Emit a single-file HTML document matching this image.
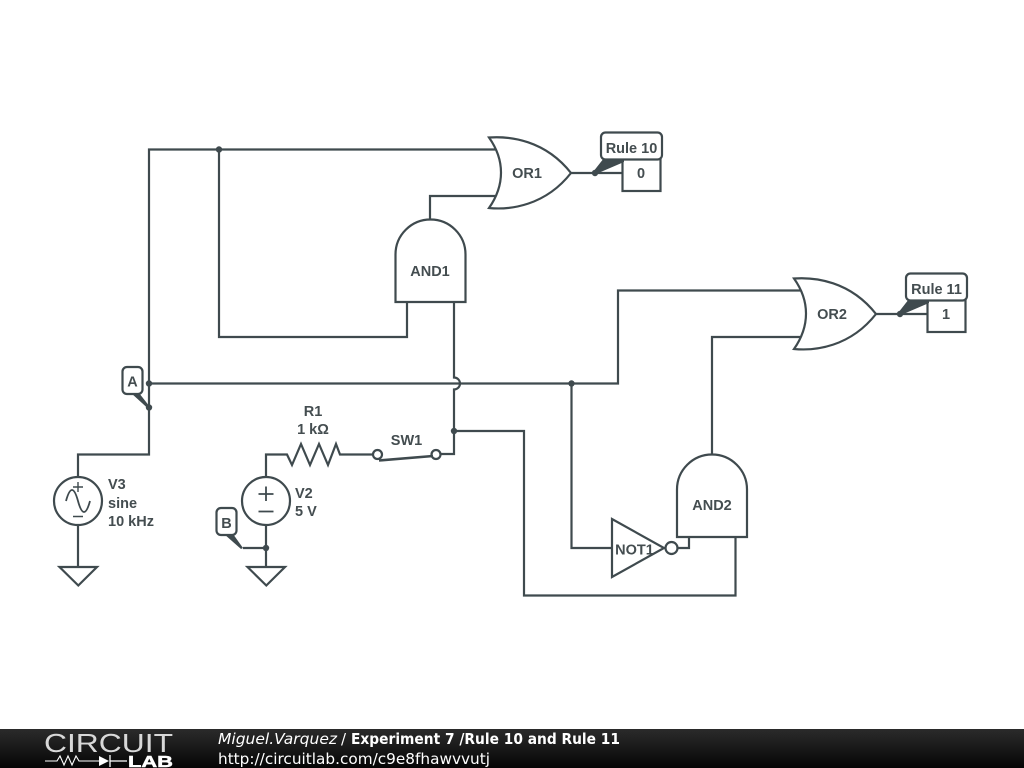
<!DOCTYPE html>
<html lang="en">
<head>
<meta charset="utf-8">
<title>Rule 10 and Rule 11</title>
<style>
html,body{margin:0;padding:0;background:#fff;width:1024px;height:768px;overflow:hidden}
svg{display:block}
.w{fill:none;stroke:#3f4a4e;stroke-width:2.2;stroke-linejoin:miter}
.s{fill:#fff;stroke:#3f4a4e;stroke-width:2.2;stroke-linejoin:miter}
.d{fill:#3f4a4e;stroke:none}
.t{font-family:"Liberation Sans",sans-serif;font-weight:bold;font-size:14.5px;fill:#444d50;text-anchor:middle}
.l{font-family:"Liberation Sans",sans-serif;font-weight:bold;font-size:14.5px;fill:#444d50}
.f{font-family:"DejaVu Sans",sans-serif;font-size:15px;fill:#fff}
</style>
</head>
<body>
<svg width="1024" height="768" viewBox="0 0 1024 768" xmlns="http://www.w3.org/2000/svg">
<defs>
<linearGradient id="bar" x1="0" y1="0" x2="0" y2="1">
<stop offset="0" stop-color="#2b2b2b"/><stop offset="1" stop-color="#050505"/>
</linearGradient>
</defs>
<rect width="1024" height="768" fill="#fff"/>

<!-- wires -->
<path class="w" d="M497 149.5H149V454.500H78V478"/>
<path class="w" d="M219 149.500V337H407V302"/>
<path class="w" d="M430 219V196H497"/>
<path class="w" d="M149 383.500H618V290.500H802"/>
<path class="w" d="M454 302V377.500A6 6 0 0 1 454 389.500V454H441"/>
<path class="w" d="M454 431H524V595.500H735.500V537"/>
<path class="w" d="M571.500 383.500V548H612"/>
<path class="w" d="M712 454V337H802"/>
<path class="w" d="M678 548H689V537"/>
<path class="w" d="M571 173H622"/>
<path class="w" d="M876 314H927"/>
<path class="w" d="M78 525V567"/>
<path class="w" d="M266 525V567"/>
<path class="w" d="M266 477V454.500H287L292 465L301 444L310 465L319 444L328 465L336 444L340 454.500H373"/>
<path class="w" d="M266 548H243"/>

<!-- switch -->
<circle class="s" cx="377.500" cy="454.500" r="4.500"/>
<circle class="s" cx="436" cy="454.500" r="4.500"/>
<path class="w" style="stroke-width:2.6" d="M379 460.500L433 456"/>
<text class="t" x="406.500" y="445">SW1</text>
<text class="t" x="313" y="416">R1</text>
<text class="t" x="313" y="434">1 kΩ</text>

<!-- OR gates -->
<path class="s" d="M489 137.500C510 136 545 140 571 173C545 206 510 210 489 208C505 185 505 160 489 137.500Z"/>
<text class="t" x="527" y="178">OR1</text>
<path class="s" d="M794 278.500C815 277 850 281 876 314C850 347 815 351 794 349C810 326 810 301 794 278.500Z"/>
<text class="t" x="832" y="319">OR2</text>

<!-- AND gates -->
<path class="s" d="M395.500 302V254.500A35 35 0 0 1 465.500 254.500V302Z"/>
<text class="t" x="430" y="276">AND1</text>
<path class="s" d="M677 537V489.500A35 35 0 0 1 747 489.500V537Z"/>
<text class="t" x="712" y="510">AND2</text>

<!-- NOT -->
<path class="s" d="M612 519V577L664 548Z"/>
<circle class="s" cx="671.500" cy="548" r="6"/>
<text class="t" x="634.500" y="554.500">NOT1</text>

<!-- sources -->
<circle class="s" cx="78" cy="501" r="24"/>
<path class="w" style="stroke-width:1.4" d="M78 482V492M73 487H83M73 516.500H83"/>
<path class="w" style="stroke-width:1.800" d="M66 501Q72 479 78 501Q84 523 90 501"/>
<circle class="s" cx="266" cy="501" r="24"/>
<path class="w" style="stroke-width:1.800" d="M266 486.500V501M258.500 494H273.500M258.500 511.500H273.500"/>
<text class="l" x="108" y="489">V3</text>
<text class="l" x="108" y="508">sine</text>
<text class="l" x="108" y="526">10 kHz</text>
<text class="l" x="295" y="498">V2</text>
<text class="l" x="295" y="516">5 V</text>

<!-- grounds -->
<path class="s" d="M59.500 567H97L78.300 585.500Z"/>
<path class="s" d="M247.500 567H285L266.300 585.500Z"/>

<!-- junctions -->
<circle class="d" cx="219" cy="149.500" r="3.200"/>
<circle class="d" cx="149" cy="383.500" r="3.200"/>
<circle class="d" cx="149" cy="407.500" r="3.200"/>
<circle class="d" cx="571.500" cy="383.500" r="3.200"/>
<circle class="d" cx="454" cy="431" r="3.200"/>
<circle class="d" cx="266" cy="548" r="3.200"/>
<circle class="d" cx="595" cy="173" r="3.200"/>
<circle class="d" cx="900" cy="314" r="3.200"/>

<!-- probes: A, B -->
<path class="d" d="M131 393L139 393L150 407L148 408.500Z"/>
<rect class="s" x="122.500" y="367" width="20" height="27" rx="4.500"/>
<text class="t" x="132.500" y="386.500">A</text>
<path class="d" d="M224 534L233 534L243 548L241 549Z"/>
<rect class="s" x="216.500" y="508" width="20" height="27" rx="4.500"/>
<text class="t" x="226.500" y="528">B</text>

<!-- Rule 10 -->
<rect class="s" x="622.500" y="159" width="38" height="32"/>
<text class="t" x="641" y="178">0</text>
<path class="d" d="M593 172L604 158H624V162L596 174Z"/>
<rect class="s" x="601" y="132.500" width="61" height="27" rx="4.500"/>
<text class="t" x="631.500" y="153">Rule 10</text>

<!-- Rule 11 -->
<rect class="s" x="927.500" y="300" width="38" height="32"/>
<text class="t" x="946" y="319">1</text>
<path class="d" d="M898 313L909 299H929V303L901 315Z"/>
<rect class="s" x="906" y="273.500" width="61" height="27" rx="4.500"/>
<text class="t" x="936.500" y="294">Rule 11</text>

<!-- footer -->
<rect x="0" y="729" width="1024" height="39" fill="url(#bar)"/>
<text x="44" y="752" font-family="'Liberation Sans',sans-serif" font-size="26" fill="#d8d8d8" textLength="129" lengthAdjust="spacingAndGlyphs">CIRCUIT</text>
<path d="M45 761H57L60 756L64 765L68 756L72 765L76 756L79 761H99" fill="none" stroke="#fff" stroke-width="1.100"/>
<path d="M99 756V766L109 761Z" fill="#fff"/>
<path d="M110 755V767M110 761H127" fill="none" stroke="#fff" stroke-width="1.300"/>
<text x="128" y="767" font-family="'Liberation Sans',sans-serif" font-weight="bold" font-size="16" fill="#fff" stroke="#fff" stroke-width="0.500" textLength="45" lengthAdjust="spacingAndGlyphs">LAB</text>
<text class="f" x="218" y="744" font-style="italic" textLength="119" lengthAdjust="spacingAndGlyphs">Miguel.Varquez</text>
<text class="f" x="341" y="744">/</text>
<text class="f" x="351" y="744" font-weight="bold" textLength="269" lengthAdjust="spacingAndGlyphs">Experiment 7 /Rule 10 and Rule 11</text>
<text class="f" x="218" y="764" textLength="272" lengthAdjust="spacingAndGlyphs">http://circuitlab.com/c9e8fhawvvutj</text>
</svg>
</body>
</html>
